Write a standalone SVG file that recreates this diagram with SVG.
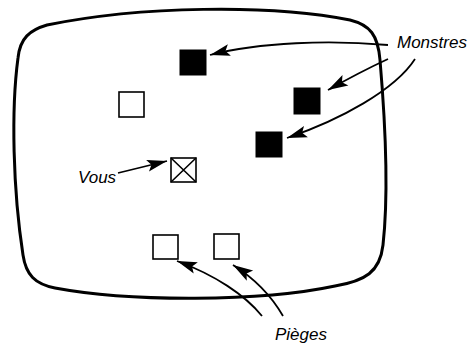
<svg xmlns="http://www.w3.org/2000/svg" width="475" height="346" viewBox="0 0 475 346">
<style>
.screen{fill:none;stroke:#000;stroke-width:3}
.mon{fill:#000;stroke:#000;stroke-width:1}
.box{fill:#fff;stroke:#000;stroke-width:1.6}
.conn{fill:none;stroke:#000;stroke-width:1.8}
.lbl{font-family:"Liberation Sans",Arial,sans-serif;font-style:italic;font-size:17px;fill:#000}
</style>
<defs>
<marker id="ah" markerUnits="userSpaceOnUse" markerWidth="20" markerHeight="12" refX="20" refY="6" orient="auto" overflow="visible">
<path d="M0,0 L20,6 L0,12 L4,6 Z" fill="#000"/>
</marker>
</defs>
<rect width="475" height="346" fill="#fff"/>
<g id="screen">
<path class="screen" d="M47,25 C140,6 270,4 350,20 C370,25 378,35 380,60 C386,130 388,200 383,245 C380,272 365,281 335,286 C260,302 130,302 55,288 C35,284 26,275 23,255 C13,190 11,110 18,58 C20,38 30,30 47,25 Z"/>
</g>
<g id="monstre1"><rect class="mon" x="180" y="50" width="26" height="25"/></g>
<g id="monstre2"><rect class="mon" x="294" y="88" width="26" height="26"/></g>
<g id="monstre3"><rect class="mon" x="256" y="132" width="26" height="25"/></g>
<g id="case"><rect class="box" x="119" y="92" width="25" height="25"/></g>
<g id="vous-case">
<rect class="box" x="171" y="158" width="25" height="24"/>
<path d="M171,158 L196,182 M196,158 L171,182" stroke="#000" stroke-width="1.6" fill="none"/>
</g>
<g id="piege1"><rect class="box" x="153" y="235" width="25" height="24"/></g>
<g id="piege2"><rect class="box" x="214" y="234" width="25" height="25"/></g>
<g id="connectors">
<path class="conn" marker-end="url(#ah)" d="M388,45 C330,40 260,42 210,55"/>
<path class="conn" marker-end="url(#ah)" d="M388,59 Q360,72 328,90"/>
<path class="conn" marker-end="url(#ah)" d="M415,59 C395,90 340,120 287,138"/>
<path class="conn" marker-end="url(#ah)" d="M118,173 L167,161"/>
<path class="conn" marker-end="url(#ah)" d="M262,316 C245,295 215,275 177,261"/>
<path class="conn" marker-end="url(#ah)" d="M283,316 Q265,285 233,265"/>
</g>
<g id="labels">
<text class="lbl" x="397" y="48">Monstres</text>
<text class="lbl" x="78" y="183">Vous</text>
<text class="lbl" x="275" y="340">Pièges</text>
</g>
</svg>
